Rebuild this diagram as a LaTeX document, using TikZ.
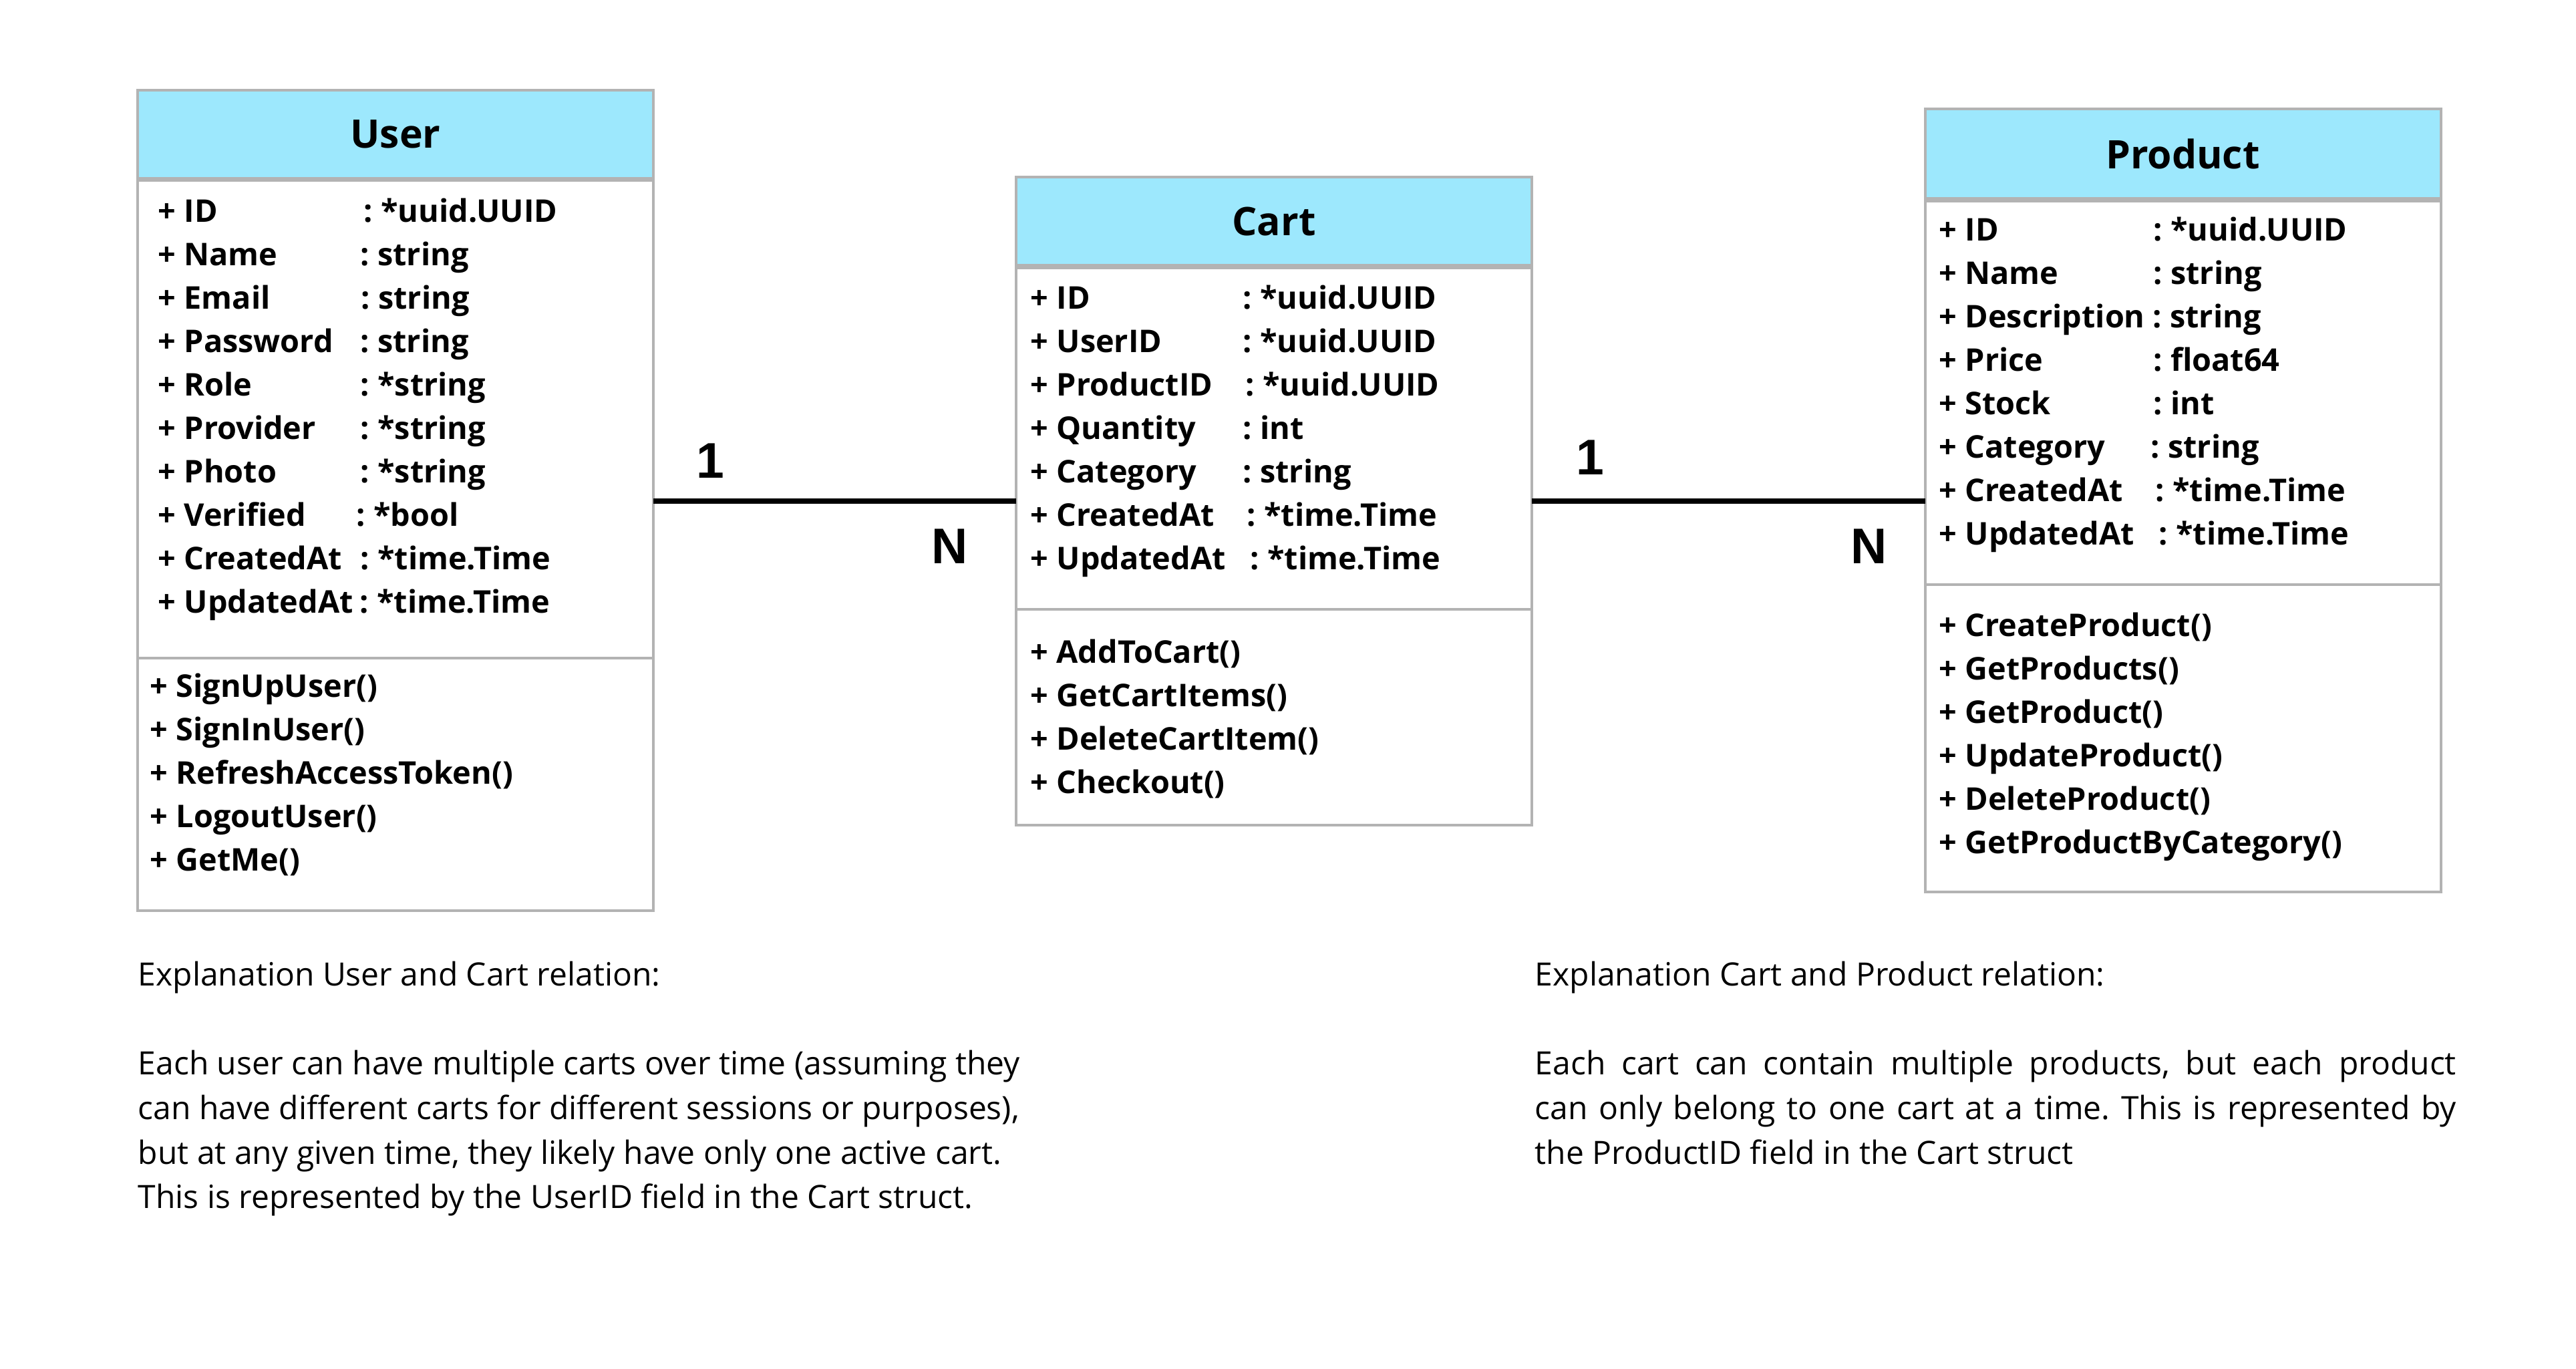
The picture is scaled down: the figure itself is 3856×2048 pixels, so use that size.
\documentclass[tikz,border=0pt]{standalone}
\usepackage{fontspec}
\setmainfont{Open Sans}
\newfontfamily\lblfont{Liberation Sans}
\definecolor{hdr}{RGB}{157,232,253}
\definecolor{bord}{RGB}{179,179,179}
\frenchspacing
\begin{document}
\begin{tikzpicture}[x=0.25pt,y=-0.25pt,
  box/.style={rectangle,draw=bord,line width=1pt,inner sep=0pt,outer sep=0pt,minimum width=193pt},
  head/.style={box,fill=hdr,font=\fontsize{14.7}{16}\selectfont\bfseries},
  body/.style={box,fill=white},
  attr/.style={anchor=base west,inner sep=0pt,font=\fontsize{11.7}{14}\selectfont\bfseries},
  expl/.style={anchor=base west,inner sep=0pt,font=\fontsize{12}{14}\selectfont},
  card/.style={anchor=base,inner sep=0pt,font=\lblfont\fontsize{18.75}{20}\selectfont\bfseries},
  rel/.style={line width=2pt,black}]
\fill[white] (0,0) rectangle (3856,2048);
\useasboundingbox (0,0) rectangle (3856,2048);

% ---------- User ----------
\node[head,minimum height=33pt] (userhead) at (592,201) {User};
\node[body,minimum height=178.75pt] (userattr) at (592,627.5) {};
\node[body,minimum height=94.5pt] (usermeth) at (592,1174) {};
\foreach \i/\n/\t/\c in {1/ID/*uuid.UUID/544, 2/Name/string/539, 3/Email/string/540,
  4/Password/string/539, 5/Role/*string/539, 6/Provider/*string/539, 7/Photo/*string/539,
  8/Verified/*bool/533, 9/CreatedAt/*time.Time/539, 10/UpdatedAt/*time.Time/538}{
  \node[attr] (ua\i) at ({236},{332+65*(\i-1)}) {+ \n};
  \node[attr] (ut\i) at ({\c},{332+65*(\i-1)}) {: \t};
}
\foreach \i/\m in {1/SignUpUser(), 2/SignInUser(), 3/RefreshAccessToken(), 4/LogoutUser(), 5/GetMe()}{
  \node[attr] (um\i) at ({224},{1043+65*(\i-1)}) {+ \m};
}

% ---------- Cart ----------
\node[head,minimum height=33pt] (carthead) at (1907,331) {Cart};
\node[body,minimum height=127.75pt] (cartattr) at (1907,656.5) {};
\node[body,minimum height=80.75pt] (cartmeth) at (1907,1073.5) {};
\foreach \i/\n/\t/\c in {1/ID/*uuid.UUID/1860, 2/UserID/*uuid.UUID/1860, 3/ProductID/*uuid.UUID/1864,
  4/Quantity/int/1860, 5/Category/string/1860, 6/CreatedAt/*time.Time/1866, 7/UpdatedAt/*time.Time/1871}{
  \node[attr] (ca\i) at ({1542},{462+65*(\i-1)}) {+ \n};
  \node[attr] (ct\i) at ({\c},{462+65*(\i-1)}) {: \t};
}
\foreach \i/\m in {1/AddToCart(), 2/GetCartItems(), 3/DeleteCartItem(), 4/Checkout()}{
  \node[attr] (cm\i) at ({1542},{992+65*(\i-1)}) {+ \m};
}

% ---------- Product ----------
\node[head,minimum height=33.5pt] (prodhead) at (3267.5,230) {Product};
\node[body,minimum height=143.5pt] (prodattr) at (3267.5,588) {};
\node[body,minimum height=115pt] (prodmeth) at (3267.5,1105) {};
\foreach \i/\n/\t/\c in {1/ID/*uuid.UUID/3223, 2/Name/string/3223, 3/Description/string/3222,
  4/Price/float64/3223, 5/Stock/int/3223, 6/Category/string/3219, 7/CreatedAt/*time.Time/3226,
  8/UpdatedAt/*time.Time/3231}{
  \node[attr] (pa\i) at ({2902},{360+65*(\i-1)}) {+ \n};
  \node[attr] (pt\i) at ({\c},{360+65*(\i-1)}) {: \t};
}
\foreach \i/\m in {1/CreateProduct(), 2/GetProducts(), 3/GetProduct(), 4/UpdateProduct(),
  5/DeleteProduct(), 6/GetProductByCategory()}{
  \node[attr] (pm\i) at ({2902},{952+65*(\i-1)}) {+ \m};
}

% ---------- Relations ----------
\coordinate (ry) at (0,750);
\draw[rel] (userattr.east |- ry) -- (cartattr.west |- ry);
\draw[rel] (cartattr.east |- ry) -- (prodattr.west |- ry);
\node[card] (uc1) at (1063,715) {1};
\node[card] (ucn) at (1422,843) {N};
\node[card] (cp1) at (2380,710) {1};
\node[card] (cpn) at (2798,843) {N};

% ---------- Explanations ----------
\node[expl] (el0) at (206,1475) {Explanation User and Cart relation:};
\node[expl] (el1) at (206,1608) {Each user can have multiple carts over time (assuming they};
\node[expl] (el2) at (206,1675) {can have different carts for different sessions or purposes),};
\node[expl] (el3) at (206,1742) {but at any given time, they likely have only one active cart.};
\node[expl] (el4) at (206,1808) {This is represented by the UserID field in the Cart struct.};

\node[expl] (er0) at (2297,1475) {Explanation Cart and Product relation:};
\node[expl] (er1) at (2297,1608) {\makebox[344.75pt][s]{Each cart can contain multiple products, but each product}};
\node[expl] (er2) at (2297,1675) {\makebox[344.75pt][s]{can only belong to one cart at a time. This is represented by}};
\node[expl] (er3) at (2297,1742) {the ProductID field in the Cart struct};
\end{tikzpicture}
\end{document}
